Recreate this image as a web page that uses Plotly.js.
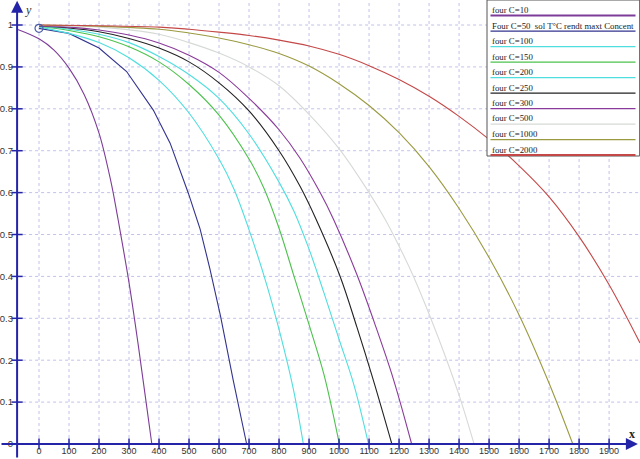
<!DOCTYPE html>
<html>
<head>
<meta charset="utf-8">
<script src="https://cdn.plot.ly/plotly-3.0.1.min.js"></script>
<style>html,body{margin:0;padding:0;background:#fff}#chart{width:640px;height:459px}</style>
</head>
<body>
<div id="chart"></div>
<script>
// ---- data ----
var names = ["four C=10", "Four C=50\u00a0 sol T\u00b0C rendt maxt Concent", "four C=100", "four C=150", "four C=200",
             "four C=250", "four C=300", "four C=500", "four C=1000", "four C=2000"];
var colors = ["#7d3c98", "#33338f", "#4fdede", "#4cc24c", "#4fdede", "#222222", "#8a3a9a", "#d6dad6", "#9a9a40", "#c44848"];

var c10x = [-73, 0, 50, 100, 150, 200, 240, 260, 270, 300, 330, 355, 376];
var c10y = [0.99, 0.967, 0.94, 0.897, 0.835, 0.742, 0.625, 0.55, 0.51, 0.385, 0.24, 0.11, 0];

var c50x = [0, 100, 200, 292, 381, 437, 498, 537, 570, 605, 647, 692];
var c50y = [0.992, 0.98, 0.945, 0.889, 0.797, 0.718, 0.598, 0.513, 0.417, 0.305, 0.153, 0];

var c100x = [0, 100, 200, 300, 400, 500, 600, 650, 703, 759, 803, 848, 881];
var c100y = [0.995, 0.98, 0.958, 0.922, 0.868, 0.79, 0.68, 0.608, 0.505, 0.38, 0.265, 0.13, 0];

var c150x = [0, 100, 200, 300, 400, 500, 600, 700, 750, 800, 850, 900, 950, 1001];
var c150y = [0.997, 0.987, 0.972, 0.948, 0.912, 0.858, 0.785, 0.68, 0.61, 0.515, 0.4, 0.285, 0.165, 0];

var c200x = [0, 100, 200, 300, 400, 500, 600, 700, 800, 850, 900, 950, 1000, 1050, 1098];
var c200y = [0.997, 0.99, 0.978, 0.958, 0.925, 0.882, 0.825, 0.74, 0.625, 0.555, 0.465, 0.36, 0.25, 0.14, 0];

var c250x = [0, 100, 200, 300, 400, 500, 600, 700, 800, 870, 923, 1003, 1059, 1114, 1176];
var c250y = [0.998, 0.993, 0.984, 0.968, 0.945, 0.912, 0.862, 0.795, 0.7, 0.615, 0.537, 0.401, 0.28, 0.153, 0];

var c300x = [0, 100, 200, 300, 400, 500, 600, 700, 800, 870, 937, 981, 1059, 1120, 1181, 1242];
var c300y = [0.998, 0.995, 0.988, 0.976, 0.957, 0.928, 0.887, 0.825, 0.75, 0.682, 0.6, 0.537, 0.405, 0.285, 0.155, 0];

var c500x = [0, 200, 400, 500, 600, 700, 800, 900, 1000, 1100, 1153, 1203, 1248, 1303, 1359, 1403, 1450];
var c500y = [0.999, 0.995, 0.978, 0.958, 0.933, 0.9, 0.855, 0.787, 0.705, 0.6, 0.537, 0.468, 0.4, 0.305, 0.2, 0.11, 0];

var c1000x = [0, 200, 400, 500, 600, 700, 800, 900, 1000, 1100, 1200, 1300, 1400, 1500, 1600, 1700, 1779];
var c1000y = [1, 0.997, 0.99, 0.981, 0.969, 0.953, 0.932, 0.902, 0.86, 0.808, 0.743, 0.662, 0.562, 0.445, 0.308, 0.145, 0];

var c2000x = [0, 400, 500, 600, 700, 800, 900, 1000, 1100, 1200, 1300, 1400, 1500, 1600, 1700, 1800, 1900, 2003];
var c2000y = [1, 0.995, 0.99, 0.983, 0.975, 0.964, 0.95, 0.93, 0.903, 0.87, 0.83, 0.782, 0.727, 0.664, 0.59, 0.495, 0.38, 0.241];

var xTicks = [0, 100, 200, 300, 400, 500, 600, 700, 800, 900, 1000, 1100, 1200, 1300, 1400, 1500, 1600, 1700, 1800, 1900];
var yTicks = [0, 0.1, 0.2, 0.3, 0.4, 0.5, 0.6, 0.7, 0.8, 0.9, 1];
var yTickText = ["0", "0.1", "0.2", "0.3", "0.4", "0.5", "0.6", "0.7", "0.8", "0.9", "1"];

// ---- drawing ----
var xRange = [-130, 2003];
var yRange = [-0.0358, 1.0597];
var yAxisAt = -73;
var axisColor = "#2424a8";
var gridColor = "#c2c2ea";

var seriesX = [c10x, c50x, c100x, c150x, c200x, c250x, c300x, c500x, c1000x, c2000x];
var seriesY = [c10y, c50y, c100y, c150y, c200y, c250y, c300y, c500y, c1000y, c2000y];

var traces = seriesX.map(function (xs, i) {
  return {
    x: xs, y: seriesY[i], type: "scatter", mode: "lines", name: names[i],
    line: {color: colors[i], width: 1.1, shape: (i === 1 ? "linear" : "spline"), smoothing: 1},
    hoverinfo: "skip", showlegend: false
  };
});
// open circle at the start of the C=50 series
traces.push({x: [c50x[0]], y: [c50y[0]], type: "scatter", mode: "markers", showlegend: false,
  marker: {symbol: "circle-open", size: 8, color: "#4a5aa8", line: {width: 1.2, color: "#4a5aa8"}}});
// tick marks crossing the axes
traces.push({x: xTicks, y: xTicks.map(function () { return 0; }), type: "scatter", mode: "markers", showlegend: false,
  marker: {symbol: "line-ns", size: 8, line: {width: 1.5, color: axisColor}}});
traces.push({x: yTicks.map(function () { return yAxisAt; }), y: yTicks, type: "scatter", mode: "markers", showlegend: false,
  marker: {symbol: "line-ew", size: 8, line: {width: 1.5, color: axisColor}}});

var shapes = [];
xTicks.forEach(function (v) {
  shapes.push({type: "line", xref: "x", yref: "y", x0: v, x1: v, y0: 0, y1: yRange[1],
    line: {color: gridColor, width: 1, dash: "dot"}, layer: "below"});
});
yTicks.forEach(function (v) {
  if (v === 0) return;
  shapes.push({type: "line", xref: "x", yref: "y", x0: yAxisAt, x1: xRange[1], y0: v, y1: v,
    line: {color: gridColor, width: 1, dash: "dot"}, layer: "below"});
});

// custom legend box
var legX0 = 487 / 640, legY0 = 1 - 156 / 459;
shapes.push({type: "rect", xref: "paper", yref: "paper", x0: legX0, x1: 0.9995, y0: legY0, y1: 1,
  fillcolor: "#ffffff", line: {color: "#555555", width: 1}, layer: "above"});
var annotations = [];
names.forEach(function (nm, i) {
  var ty = 10 + 15.5 * i, ly = 15.6 + 15.5 * i;
  annotations.push({xref: "paper", yref: "paper", x: 490 / 640, y: 1 - ty / 459, xanchor: "left", yanchor: "middle",
    text: nm, showarrow: false, font: {family: "Liberation Serif, serif", size: 8.8, color: "#222"}});
  shapes.push({type: "line", xref: "paper", yref: "paper", x0: 490.5 / 640, x1: 635.5 / 640,
    y0: 1 - ly / 459, y1: 1 - ly / 459, line: {color: colors[i], width: (i === 0 || i === 9) ? 2 : 1.2}, layer: "above"});
});

// axis lines with arrows
annotations.push({x: 1996, y: 0, ax: xRange[0], ay: 0, xref: "x", yref: "y", axref: "x", ayref: "y",
  showarrow: true, arrowhead: 2, arrowsize: 1.2, arrowwidth: 2, arrowcolor: axisColor, text: ""});
annotations.push({x: yAxisAt, y: 1.058, ax: yAxisAt, ay: yRange[0], xref: "x", yref: "y", axref: "x", ayref: "y",
  showarrow: true, arrowhead: 2, arrowsize: 1.2, arrowwidth: 2, arrowcolor: axisColor, text: ""});
// axis names
annotations.push({xref: "paper", yref: "paper", x: 28 / 640, y: 1 - 10 / 459, xanchor: "center", yanchor: "middle",
  text: "<i>y</i>", showarrow: false, font: {family: "Liberation Serif, serif", size: 12, color: "#333"}});
annotations.push({xref: "paper", yref: "paper", x: 632 / 640, y: 1 - 434 / 459, xanchor: "center", yanchor: "middle",
  text: "<b>x</b>", showarrow: false, font: {family: "Liberation Serif, serif", size: 12, color: "#222"}});

var layout = {
  width: 640, height: 459,
  margin: {l: 0, r: 0, t: 0, b: 0, pad: 0},
  paper_bgcolor: "#ffffff", plot_bgcolor: "#ffffff",
  showlegend: false,
  xaxis: {range: xRange, anchor: "free", position: 15 / 459, showgrid: false, zeroline: false, showline: false,
    tickmode: "array", tickvals: xTicks, ticktext: xTicks.map(String), ticks: "", ticklen: 0,
    tickfont: {family: "Liberation Sans, Arial, sans-serif", size: 9, color: "#333"}, fixedrange: true},
  yaxis: {range: yRange, anchor: "free", position: 17 / 640, showgrid: false, zeroline: false, showline: false,
    tickmode: "array", tickvals: yTicks, ticktext: yTickText, ticks: "", ticklen: 0, ticklabelstandoff: 4,
    tickfont: {family: "Liberation Sans, Arial, sans-serif", size: 9.5, color: "#333"}, fixedrange: true},
  shapes: shapes,
  annotations: annotations
};

Plotly.newPlot("chart", traces, layout, {staticPlot: true, displayModeBar: false});
</script>
</body>
</html>
